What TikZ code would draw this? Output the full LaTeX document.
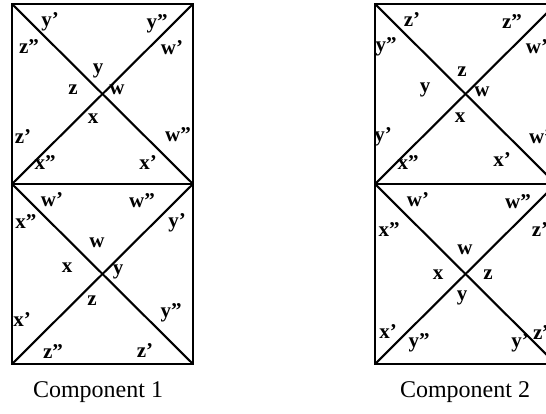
\documentclass[tikz,border=0pt]{standalone}
\usepackage{fontspec}
\setmainfont{Liberation Serif}
\newfontfamily\lblfont[Ligatures=TeX]{Liberation Serif Bold}
\newcommand{\drawcell}[2]{
    \draw[line width=2.6pt] (#1, #2) rectangle ++(181, 180);
    \draw[line width=2.1pt] (#1, #2) -- ++(181, 180);
    \draw[line width=2.1pt] (#1+181, #2) -- ++(-181, 180);
}
\tikzset{
    lbl/.style={inner sep=0pt, font=\lblfont\fontsize{21}{21}\selectfont},
    caption/.style={inner sep=0pt, font=\fontsize{24}{24}\selectfont}
}

\begin{document}
\begin{tikzpicture}[x=1pt, y=-1pt]

\useasboundingbox (0, 0) rectangle (546, 414);
\clip (0, 0) rectangle (546, 414);

\drawcell{12}{4}
\drawcell{12}{184}
\drawcell{375}{4}
\drawcell{375}{184}

% Component 1, upper cell
\node[lbl] (a1) at (50, 22) {y'};
\node[lbl] (a2) at (157, 24) {y''};
\node[lbl] (a3) at (29, 47) {z''};
\node[lbl] (a4) at (172, 48) {w'};
\node[lbl] (a5) at (98, 71) {y};
\node[lbl] (a6) at (73, 90) {z};
\node[lbl] (a7) at (117, 90) {w};
\node[lbl] (a8) at (93, 119) {x};
\node[lbl] (a9) at (23, 137) {z'};
\node[lbl] (a10) at (178, 135) {w''};
\node[lbl] (a11) at (45, 163) {x''};
\node[lbl] (a12) at (148, 163) {x'};

% Component 1, lower cell
\node[lbl] (b1) at (52, 200) {w'};
\node[lbl] (b2) at (142, 201) {w''};
\node[lbl] (b3) at (26, 222) {x''};
\node[lbl] (b4) at (177, 223) {y'};
\node[lbl] (b5) at (97, 243) {w};
\node[lbl] (b6) at (67, 268) {x};
\node[lbl] (b7) at (118, 272) {y};
\node[lbl] (b8) at (92, 301) {z};
\node[lbl] (b9) at (22, 320) {x'};
\node[lbl] (b10) at (171, 313) {y''};
\node[lbl] (b11) at (53, 352) {z''};
\node[lbl] (b12) at (145, 351) {z'};

% Component 2, upper cell
\node[lbl] (c1) at (412, 20) {z'};
\node[lbl] (c2) at (512, 22) {z''};
\node[lbl] (c3) at (386, 47) {y''};
\node[lbl] (c4) at (537, 47) {w'};
\node[lbl] (c5) at (462, 72) {z};
\node[lbl] (c6) at (425, 90) {y};
\node[lbl] (c7) at (482, 92) {w};
\node[lbl] (c8) at (460, 118) {x};
\node[lbl] (c9) at (383, 137) {y'};
\node[lbl] (c10) at (542, 137) {w''};
\node[lbl] (c11) at (408, 163) {x''};
\node[lbl] (c12) at (502, 160) {x'};

% Component 2, lower cell
\node[lbl] (d1) at (418, 200) {w'};
\node[lbl] (d2) at (518, 202) {w''};
\node[lbl] (d3) at (389, 230) {x''};
\node[lbl] (d4) at (540, 230) {z'};
\node[lbl] (d5) at (465, 250) {w};
\node[lbl] (d6) at (438, 275) {x};
\node[lbl] (d7) at (488, 275) {z};
\node[lbl] (d8) at (462, 298) {y};
\node[lbl] (d9) at (388, 332) {x'};
\node[lbl] (d10) at (543, 333) {z''};
\node[lbl] (d11) at (419, 343) {y''};
\node[lbl] (d12) at (520, 343) {y'};

% Captions
\node[caption] (cap1) at (98, 392) {Component 1};
\node[caption] (cap2) at (465, 392) {Component 2};

\end{tikzpicture}
\end{document}
